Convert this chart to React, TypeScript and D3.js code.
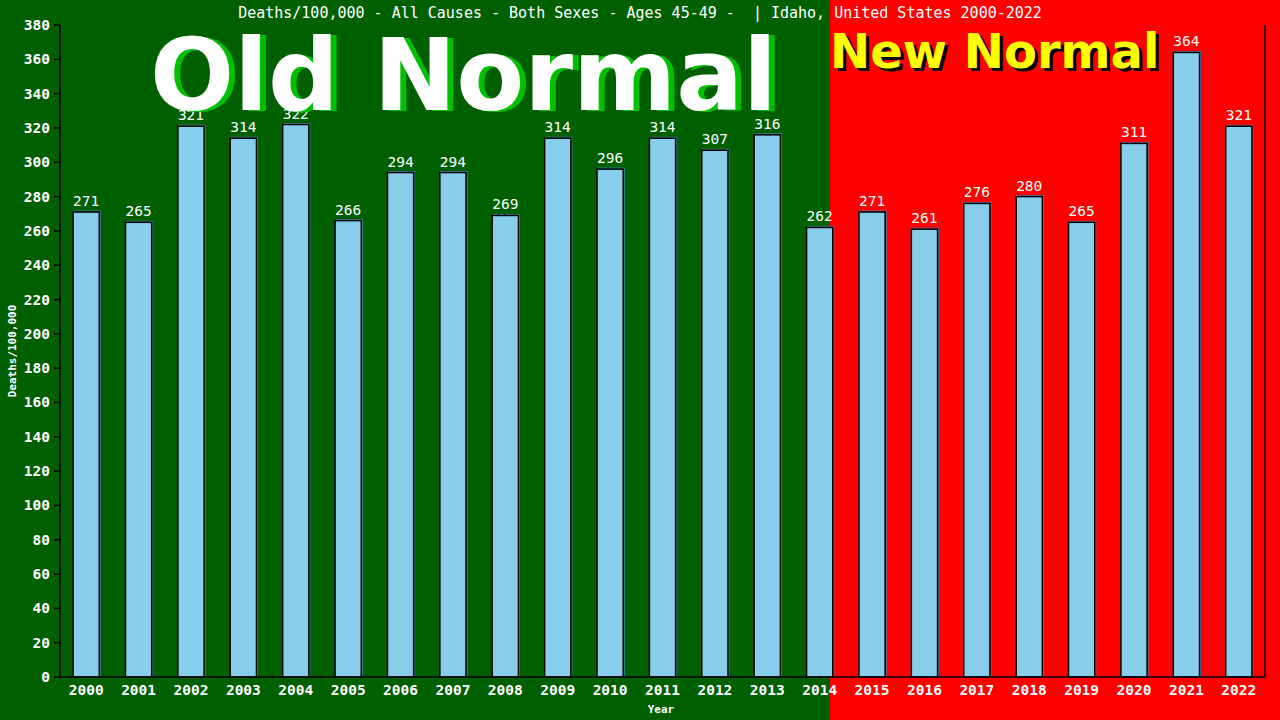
import React from "react";
import * as d3 from "d3";

const years = ["2000","2001","2002","2003","2004","2005","2006","2007","2008","2009","2010","2011","2012","2013","2014","2015","2016","2017","2018","2019","2020","2021","2022"];
const deaths = [271,265,321,314,322,266,294,294,269,314,296,314,307,316,262,271,261,276,280,265,311,364,321];
const yTicks = d3.range(0, 381, 20);
const title = "Deaths/100,000 - All Causes - Both Sexes - Ages 45-49 -  | Idaho, United States 2000-2022";

const W = 1280, H = 720;
const M = { left: 60, right: 1265, top: 25, bottom: 677 };
const SPLIT_X = 830;
const MONO = "'DejaVu Sans Mono', 'Liberation Mono', monospace";
const SANS = "'DejaVu Sans', Verdana, sans-serif";

export default function App() {
  const x = d3.scaleBand<string>().domain(years).range([M.left, M.right]).paddingInner(0.5).paddingOuter(0.25);
  const y = d3.scaleLinear().domain([0, 380]).range([M.bottom, M.top]);
  const bw = x.bandwidth();
  return (
    <svg width={W} height={H} style={{ position: "absolute", left: 0, top: 0, display: "block" }}>
      <rect x={0} y={0} width={SPLIT_X} height={H} fill="#006000" />
      <rect x={SPLIT_X} y={0} width={W - SPLIT_X} height={H} fill="#ff0000" />
      <text x={640} y={18} fill="#fff" fontFamily={MONO} fontSize={15} textAnchor="middle" style={{ whiteSpace: "pre" }} xmlSpace="preserve">{title}</text>
      {years.map((yr, i) => {
        const x0 = x(yr)!;
        const y0 = y(deaths[i]);
        return (
          <g key={yr}>
            <rect x={x0 + 1} y={y0 - 1} width={bw} height={M.bottom - y0} fill="none" stroke="#4682b4" strokeWidth={1} />
            <rect x={x0} y={y0} width={bw} height={M.bottom - y0} fill="#87ceeb" stroke="#000" strokeWidth={1.5} />
            <text x={x0 + bw / 2} y={y0 - 6} fill="#fff" fontFamily={MONO} fontSize={14.5} textAnchor="middle">{deaths[i]}</text>
            <text x={x0 + bw / 2} y={695} fill="#fff" fontFamily={MONO} fontSize={14.5} fontWeight="bold" textAnchor="middle">{yr}</text>
          </g>
        );
      })}
      <line x1={M.left} x2={M.left} y1={M.top} y2={M.bottom} stroke="#000" strokeWidth={1.5} />
      <line x1={M.right} x2={M.right} y1={M.top} y2={M.bottom} stroke="#000" strokeWidth={1.5} />
      <line x1={M.left} x2={M.right} y1={M.bottom} y2={M.bottom} stroke="#000" strokeWidth={1.5} />
      {yTicks.map((t) => (
        <g key={t}>
          <line x1={M.left - 6} x2={M.left} y1={y(t)} y2={y(t)} stroke="#000" strokeWidth={1.5} />
          <text x={50} y={y(t) + 5} fill="#fff" fontFamily={MONO} fontSize={14.5} fontWeight="bold" textAnchor="end">{t}</text>
        </g>
      ))}
      <text transform={`translate(16,351) rotate(-90)`} fill="#fff" fontFamily={MONO} fontSize={11} fontWeight="bold" textAnchor="middle">Deaths/100,000</text>
      <text x={661} y={713} fill="#fff" fontFamily={MONO} fontSize={11} fontWeight="bold" textAnchor="middle">Year</text>
      <text x={156} y={111} fill="#00c000" fontFamily={SANS} fontSize={99} fontWeight="bold">Old Normal</text>
      <text x={150} y={110} fill="#fff" fontFamily={SANS} fontSize={99} fontWeight="bold">Old Normal</text>
      <text x={833} y={71} fill="#000" fontFamily={SANS} fontSize={48} fontWeight="bold">New Normal</text>
      <text x={830} y={68} fill="#ffff00" fontFamily={SANS} fontSize={48} fontWeight="bold">New Normal</text>
    </svg>
  );
}
